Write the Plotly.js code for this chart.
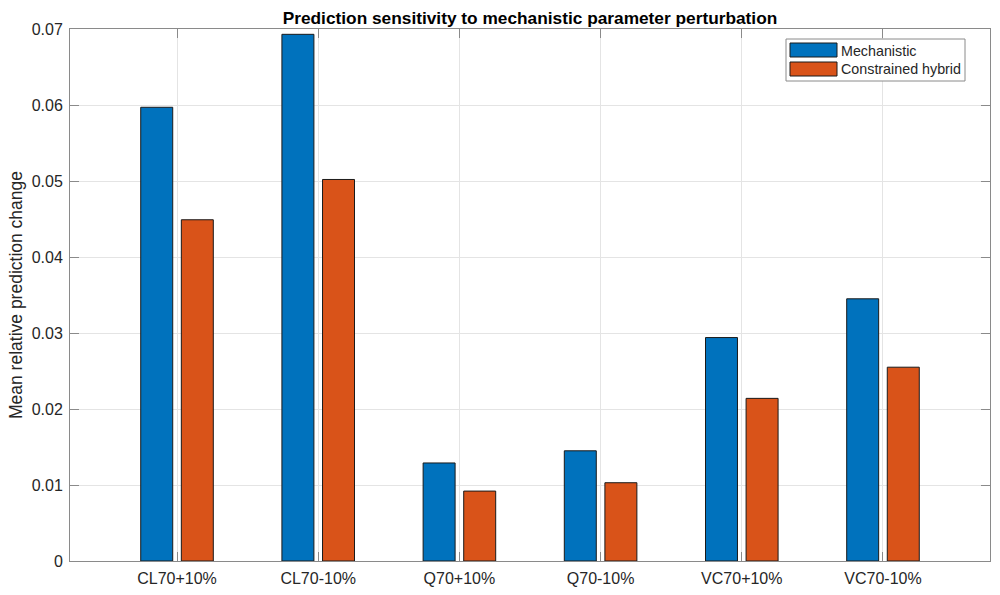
<!DOCTYPE html>
<html>
<head>
<meta charset="utf-8">
<script src="https://cdn.plot.ly/plotly-3.0.1.min.js"></script>
<style>html,body{margin:0;padding:0;background:#fff;}#chart{width:1000px;height:595px;}</style>
</head>
<body>
<div id="chart"></div>
<script>
const categories = ["CL70+10%", "CL70-10%", "Q70+10%", "Q70-10%", "VC70+10%", "VC70-10%"];
const mechanistic = [0.0597, 0.0693, 0.0129, 0.0145, 0.0294, 0.0345];
const constrainedHybrid = [0.0449, 0.0502, 0.0092, 0.0103, 0.0214, 0.0255];
const seriesNames = ["Mechanistic", "Constrained hybrid"];
const seriesColors = ["#0072BD", "#D95319"];
const yTicks = [0, 0.01, 0.02, 0.03, 0.04, 0.05, 0.06, 0.07];
const yTickText = ["0", "0.01", "0.02", "0.03", "0.04", "0.05", "0.06", "0.07"];

const W = 1000, H = 595;
const L = 70, R = 990, T = 29, B = 561;
const px = x => (x - L) / (R - L);
const py = y => (B - y) / (B - T);

const font = "Liberation Sans, Arial, Helvetica, sans-serif";
const textColor = "#262626";
const axisColor = "#8a8a8a";

const traces = [mechanistic, constrainedHybrid].map((vals, i) => ({
  type: "bar",
  name: seriesNames[i],
  x: categories,
  y: vals,
  marker: { color: seriesColors[i], line: { color: "#1a1a1a", width: 1 } },
  showlegend: false,
  hoverinfo: "x+y"
}));

// Custom MATLAB-like legend
const legShapes = [
  { type: "rect", xref: "paper", yref: "paper", x0: px(786), x1: px(965), y0: py(39), y1: py(81),
    line: { color: "#8a8a8a", width: 1 }, fillcolor: "#ffffff", layer: "above" },
  { type: "rect", xref: "paper", yref: "paper", x0: px(790), x1: px(837), y0: py(43), y1: py(57),
    line: { color: "#1a1a1a", width: 1 }, fillcolor: seriesColors[0], layer: "above" },
  { type: "rect", xref: "paper", yref: "paper", x0: px(790), x1: px(837), y0: py(62), y1: py(76),
    line: { color: "#1a1a1a", width: 1 }, fillcolor: seriesColors[1], layer: "above" }
];
const legAnn = seriesNames.map((n, i) => ({
  xref: "paper", yref: "paper", x: px(839), y: py(i === 0 ? 51 : 69),
  xanchor: "left", yanchor: "middle", text: n, showarrow: false,
  font: { family: font, size: 14.3, color: textColor }
}));

const layout = {
  width: W, height: H,
  paper_bgcolor: "#ffffff", plot_bgcolor: "#ffffff",
  margin: { l: L, r: W - R, t: T, b: H - B, pad: 0 },
  barmode: "group",
  bargap: 0.425,
  bargroupgap: 0.212,
  title: {
    text: "<b>Prediction sensitivity to mechanistic parameter perturbation</b>",
    font: { family: font, size: 17.3, color: "#000000" },
    x: 530 / W, xanchor: "center", xref: "container",
    y: 1 - 18 / H, yanchor: "middle", yref: "container"
  },
  xaxis: {
    type: "category",
    range: [-0.758, 5.758],
    showgrid: true, gridcolor: "#e4e4e4", gridwidth: 1,
    ticks: "inside", ticklen: 9, tickcolor: axisColor, tickwidth: 1,
    showline: true, linecolor: axisColor, linewidth: 1, mirror: "ticks",
    tickfont: { family: font, size: 16, color: textColor },
    ticklabelstandoff: 3,
    zeroline: false, fixedrange: true
  },
  yaxis: {
    range: [0, 0.07],
    tickvals: yTicks, ticktext: yTickText,
    showgrid: true, gridcolor: "#e4e4e4", gridwidth: 1,
    ticks: "inside", ticklen: 9, tickcolor: axisColor, tickwidth: 1,
    showline: true, linecolor: axisColor, linewidth: 1, mirror: "ticks",
    tickfont: { family: font, size: 16, color: textColor },
    ticklabelstandoff: 3,
    zeroline: false, fixedrange: true,
    title: { text: "Mean relative prediction change", font: { family: font, size: 17.5, color: textColor }, standoff: 4 }
  },
  shapes: legShapes,
  annotations: legAnn
};

Plotly.newPlot("chart", traces, layout, { displayModeBar: false, staticPlot: true });
</script>
</body>
</html>
